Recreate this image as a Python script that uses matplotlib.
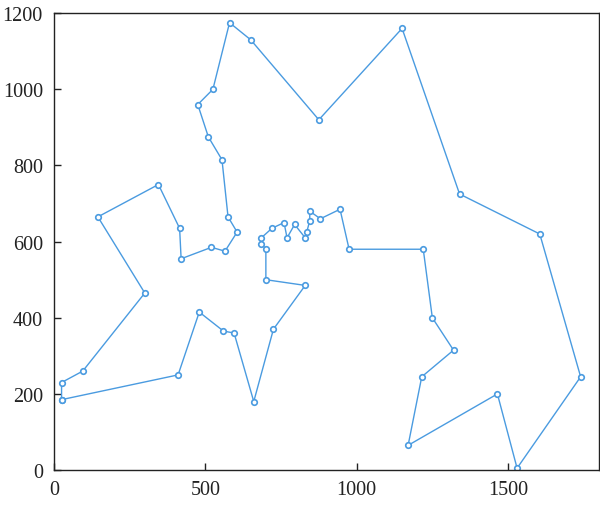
import matplotlib
matplotlib.use("Agg")
import matplotlib.pyplot as plt

# city coordinates in tour order (closed tour, first city repeated at the end)
tour_x = [25, 25, 95, 300, 145, 345, 415, 420, 520, 565, 605, 575, 555, 510,
          475, 525, 580, 650, 875, 1150, 1340, 1605, 1740, 1530, 1465, 1170,
          1215, 1320, 1250, 1220, 975, 945, 880, 845, 845, 835, 830, 795, 770,
          760, 720, 685, 685, 700, 700, 830, 725, 660, 595, 560, 480, 410, 25]
tour_y = [185, 230, 260, 465, 665, 750, 635, 555, 585, 575, 625, 665, 815, 875,
          960, 1000, 1175, 1130, 920, 1160, 725, 620, 245, 5, 200, 65,
          245, 315, 400, 580, 580, 685, 660, 680, 655, 625, 610, 645, 610,
          650, 635, 610, 595, 580, 500, 485, 370, 180, 360, 365, 415, 250, 185]

xticks = [0, 500, 1000, 1500]
yticks = [0, 200, 400, 600, 800, 1000, 1200]

plt.rcParams['font.family'] = ['Liberation Serif', 'DejaVu Serif']

fig = plt.figure(figsize=(6.0, 5.06), dpi=100)
ax = fig.add_axes([0.09, 0.069, 0.908, 0.903])

ax.plot(tour_x, tour_y, color='#4a9be0', linewidth=1.0, marker='o',
        markersize=4, markerfacecolor='white', markeredgecolor='#4a9be0',
        markeredgewidth=1.2)

ax.set_xlim(0, 1800)
ax.set_ylim(0, 1200)
ax.set_xticks(xticks)
ax.set_yticks(yticks)
ax.tick_params(direction='in', length=5, width=1, labelsize=14.5, colors='#222222')
ax.tick_params(axis='x', pad=7)
ax.tick_params(axis='y', pad=8)
for s in ax.spines.values():
    s.set_linewidth(1.0)
    s.set_color('#222222')

fig.savefig("out.png", dpi=100)
